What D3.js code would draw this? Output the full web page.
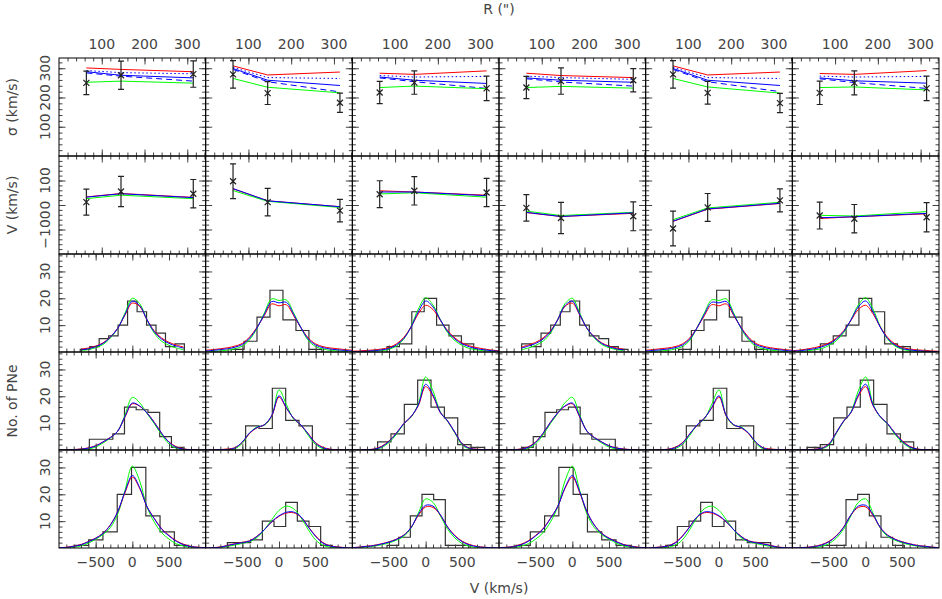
<!DOCTYPE html>
<html>
<head>
<meta charset="utf-8">
<script src="https://cdn.jsdelivr.net/npm/d3@7"></script>
<style>
  body { margin: 0; background: #fff; }
  svg { display: block; }
  text { font-family: "DejaVu Sans", sans-serif; font-size: 14px; fill: #444; }
</style>
</head>
<body>
<div id="chart"></div>
<script>
// radial bins ('') of the kinematic points
const radii = [64, 145, 314];
// velocity grid (km/s) on which the model LOSVDs are read
const vGrid = [-1000, -900, -800, -700, -600, -500, -400, -300, -200, -100, 0,
               100, 200, 300, 400, 500, 600, 700, 800, 900, 1000];

const rTicks = [100, 200, 300];
const vTicks = [-500, 0, 500];
const sigmaTicks = [100, 200, 300];
const velTicks = [-100, 0, 100];
const countTicks = [10, 20, 30];

// row 1: velocity dispersion, one entry per column
const sigmaObs = [[250, 276, 280], [279, 215, 182], [217, 251, 231], [234, 256, 259], [279, 216, 181], [216, 250, 231]];
const sigmaErr = [[40, 48, 45], [47, 39, 33], [38, 40, 42], [38, 45, 40], [47, 39, 33], [40, 41, 42]];
const sigRed = [[301, 296, 288], [308, 277, 287], [283, 279, 291], [283, 275, 268], [308, 277, 287], [282, 279, 292]];
const sigDotted = [[292, 285, 281], [303, 268, 265], [275, 270, 272], [273, 268, 262], [303, 268, 265], [273, 270, 272]];
const sigSolid = [[288, 276, 267], [299, 259, 241], [270, 259, 248], [267, 259, 252], [299, 259, 241], [267, 257, 249]];
const sigDashed = [[284, 273, 256], [296, 254, 219], [267, 254, 231], [264, 253, 239], [296, 254, 220], [264, 251, 231]];
const sigGreen = [[252, 256, 249], [265, 235, 216], [234, 239, 230], [234, 238, 232], [265, 236, 215], [234, 236, 226]];

// row 2: mean velocity
const velObs = [[12, 55, 46], [97, 12, -23], [44, 58, 51], [-12, -53, -46], [-96, -10, 19], [-43, -56, -50]];
const velErr = [[53, 62, 58], [71, 56, 46], [55, 58, 58], [54, 64, 59], [71, 57, 47], [55, 58, 60]];
const velRed = [[33, 47, 31], [66, 17, -7], [58, 53, 40], [-31, -47, -34], [-67, -17, 6], [-55, -48, -36]];
const velBlue = [[32, 46, 30], [67, 17, -7], [53, 53, 38], [-30, -47, -32], [-66, -16, 7], [-52, -48, -34]];
const velGreen = [[26, 40, 26], [59, 15, -10], [45, 50, 32], [-25, -43, -30], [-60, -12, 11], [-42, -45, -27]];

// rows 3-5: histograms of PN velocities (bin edges, counts) and model profiles on vGrid
const edges3 = [
  [-710, -581, -452, -323, -194, -65, 65, 194, 323, 452, 581, 710],
  [-653, -476, -300, -123, 54, 231, 408, 585],
  [-527, -358, -189, -20, 149, 318, 487, 655],
  [-691, -559, -427, -295, -164, -32, 100, 232, 363, 495, 627, 759],
  [-550, -377, -204, -32, 141, 313, 486, 659],
  [-618, -442, -267, -92, 83, 259, 434, 609]
];
const counts3 = [
  [1, 2, 5, 6, 10, 19, 15, 10, 7, 2, 3],
  [1, 4, 13, 23, 12, 8, 1],
  [2, 3, 15, 20, 10, 6, 3],
  [3, 2, 7, 10, 15, 19, 10, 6, 5, 2, 1],
  [1, 8, 12, 23, 13, 4, 1],
  [3, 6, 10, 20, 15, 3, 2]
];
const blue3 = [
  [null, null, null, 0.8, 1.2, 2.0, 3.2, 5.5, 8.8, 14.0, 18.9, 17.3, 12.0, 7.5, 4.8, 3.2, 2.2, 1.4, null, null, null],
  [0.4, 0.6, 0.9, 1.2, 1.8, 2.8, 5.2, 9.0, 14.0, 18.8, 18.3, 18.5, 14.0, 9.0, 4.8, 2.6, 1.6, 1.1, 0.8, 0.6, 0.4],
  [0.1, 0.2, 0.3, 0.5, 0.8, 1.3, 2.6, 5.0, 9.2, 15.0, 19.0, 16.8, 12.0, 7.6, 4.8, 3.0, 1.9, 1.2, 0.8, 0.5, 0.3],
  [null, null, null, 1.4, 2.2, 3.2, 4.8, 7.5, 12.0, 17.3, 18.9, 14.0, 8.8, 5.5, 3.2, 2.0, 1.2, 0.8, null, null, null],
  [0.4, 0.6, 0.8, 1.1, 1.6, 2.6, 4.8, 9.0, 14.0, 18.5, 18.3, 18.8, 14.0, 9.0, 5.2, 2.8, 1.8, 1.2, 0.9, 0.6, 0.4],
  [0.3, 0.5, 0.8, 1.2, 1.9, 3.0, 4.8, 7.6, 12.0, 16.8, 19.0, 15.0, 9.2, 5.0, 2.6, 1.3, 0.8, 0.5, 0.3, 0.2, 0.1]
];
const green3 = [
  [null, null, null, 0.5, 0.9, 1.6, 2.8, 5.2, 8.8, 14.5, 20.0, 18.0, 12.0, 7.0, 4.0, 2.5, 1.5, 0.8, null, null, null],
  [0.1, 0.2, 0.4, 0.7, 1.2, 2.2, 4.6, 8.8, 14.5, 19.8, 19.2, 19.4, 14.5, 9.0, 4.3, 2.0, 1.1, 0.6, 0.4, 0.2, 0.1],
  [0.0, 0.1, 0.2, 0.3, 0.5, 1.0, 2.2, 4.8, 9.5, 16.0, 20.2, 17.5, 12.0, 7.2, 4.2, 2.4, 1.3, 0.8, 0.4, 0.2, 0.1],
  [null, null, null, 0.8, 1.5, 2.5, 4.0, 7.0, 12.0, 18.0, 20.0, 14.5, 8.8, 5.2, 2.8, 1.6, 0.9, 0.5, null, null, null],
  [0.1, 0.2, 0.4, 0.6, 1.1, 2.0, 4.3, 9.0, 14.5, 19.4, 19.2, 19.8, 14.5, 8.8, 4.6, 2.2, 1.2, 0.7, 0.4, 0.2, 0.1],
  [0.1, 0.2, 0.4, 0.8, 1.3, 2.4, 4.2, 7.2, 12.0, 17.5, 20.2, 16.0, 9.5, 4.8, 2.2, 1.0, 0.5, 0.3, 0.2, 0.1, 0.0]
];
const red3 = [
  [null, null, null, 1.1, 1.5, 2.2, 3.4, 5.6, 8.8, 13.8, 18.2, 17.0, 12.0, 7.8, 5.2, 3.6, 2.6, 1.8, null, null, null],
  [0.7, 0.9, 1.2, 1.6, 2.2, 3.2, 5.6, 9.2, 13.6, 17.9, 17.2, 17.6, 13.5, 9.0, 5.2, 3.0, 2.0, 1.5, 1.2, 0.9, 0.7],
  [0.3, 0.4, 0.6, 0.8, 1.1, 1.7, 3.0, 5.4, 9.3, 14.2, 17.4, 15.8, 11.8, 7.9, 5.2, 3.4, 2.3, 1.6, 1.1, 0.7, 0.5],
  [null, null, null, 1.8, 2.6, 3.6, 5.2, 7.8, 12.0, 17.0, 18.2, 13.8, 8.8, 5.6, 3.4, 2.2, 1.5, 1.1, null, null, null],
  [0.7, 0.9, 1.2, 1.5, 2.0, 3.0, 5.2, 9.0, 13.5, 17.6, 17.2, 17.9, 13.6, 9.2, 5.6, 3.2, 2.2, 1.6, 1.2, 0.9, 0.7],
  [0.5, 0.7, 1.1, 1.6, 2.3, 3.4, 5.2, 7.9, 11.8, 15.8, 17.4, 14.2, 9.3, 5.4, 3.0, 1.7, 1.1, 0.8, 0.6, 0.4, 0.3]
];

const edges4 = [
  [-586, -426, -266, -107, 53, 213, 373, 533, 693],
  [-455, -273, -91, 91, 273, 455],
  [-655, -473, -291, -109, 73, 255, 437, 619, 801],
  [-693, -533, -373, -213, -53, 107, 266, 426, 586],
  [-445, -262, -78, 106, 289, 473],
  [-801, -619, -437, -255, -73, 109, 291, 473, 655]
];
const counts4 = [
  [4, 4, 6, 16, 15, 14, 5, 1],
  [9, 8, 23, 11, 9],
  [3, 6, 17, 26, 16, 12, 2, 1],
  [1, 5, 14, 15, 16, 6, 4, 4],
  [9, 11, 23, 8, 9],
  [1, 2, 12, 16, 26, 17, 6, 3]
];
const blue4 = [
  [0, 0, 0.1, 0.3, 0.7, 1.5, 3.0, 4.6, 7.0, 12.5, 17.5, 16.4, 13.8, 10.2, 6.2, 2.9, 1.0, 0.3, 0.1, 0, 0],
  [0, 0, 0.1, 0.2, 0.8, 3.0, 6.4, 8.4, 9.4, 12.8, 20.2, 15.8, 11.8, 9.3, 5.9, 2.5, 0.8, 0.2, 0, 0, 0],
  [0, 0, 0.1, 0.3, 1.2, 3.2, 6.2, 9.8, 12.4, 16.8, 24.5, 20.5, 14.0, 10.8, 6.5, 2.2, 0.6, 0.2, 0.1, 0, 0],
  [0, 0, 0.1, 0.3, 1.0, 2.9, 6.2, 10.2, 13.8, 16.4, 17.5, 12.5, 7.0, 4.6, 3.0, 1.5, 0.7, 0.3, 0.1, 0, 0],
  [0, 0, 0, 0.2, 0.8, 2.5, 5.9, 9.3, 11.8, 15.8, 20.2, 12.8, 9.4, 8.4, 6.4, 3.0, 0.8, 0.2, 0.1, 0, 0],
  [0, 0, 0.1, 0.2, 0.6, 2.2, 6.5, 10.8, 14.0, 20.5, 24.5, 16.8, 12.4, 9.8, 6.2, 3.2, 1.2, 0.3, 0.1, 0, 0]
];
const green4 = [
  [0, 0, 0, 0.1, 0.4, 1.1, 2.6, 4.5, 7.0, 13.0, 19.6, 17.6, 13.6, 9.8, 5.6, 2.3, 0.6, 0.1, 0, 0, 0],
  [0, 0, 0, 0.1, 0.5, 2.5, 6.3, 8.6, 9.2, 12.5, 22.4, 17.0, 11.5, 9.2, 5.4, 2.0, 0.5, 0.1, 0, 0, 0],
  [0, 0, 0, 0.2, 0.9, 2.8, 5.8, 9.6, 12.2, 17.2, 27.2, 22.0, 14.2, 10.6, 6.2, 1.8, 0.4, 0.1, 0, 0, 0],
  [0, 0, 0, 0.1, 0.6, 2.3, 5.6, 9.8, 13.6, 17.6, 19.6, 13.0, 7.0, 4.5, 2.6, 1.1, 0.4, 0.1, 0, 0, 0],
  [0, 0, 0, 0.1, 0.5, 2.0, 5.4, 9.2, 11.5, 17.0, 22.4, 12.5, 9.2, 8.6, 6.3, 2.5, 0.5, 0.1, 0, 0, 0],
  [0, 0, 0, 0.1, 0.4, 1.8, 6.2, 10.6, 14.2, 22.0, 27.2, 17.2, 12.2, 9.6, 5.8, 2.8, 0.9, 0.2, 0, 0, 0]
];
const red4 = [
  [0, 0.05, 0.15, 0.4, 0.8, 1.6, 3.0, 4.7, 7.0, 12.3, 17.2, 16.3, 13.8, 10.3, 6.2, 3.0, 1.2, 0.4, 0.15, 0.05, 0],
  [0, 0.05, 0.15, 0.4, 0.9, 2.9, 6.2, 8.3, 9.4, 12.6, 19.7, 15.6, 11.8, 9.2, 6.0, 2.7, 1.0, 0.3, 0.1, 0, 0],
  [0, 0.05, 0.15, 0.4, 1.4, 3.4, 6.3, 9.8, 12.4, 16.5, 23.6, 20.0, 13.9, 10.8, 6.5, 2.3, 0.7, 0.3, 0.15, 0.05, 0],
  [0, 0.05, 0.15, 0.4, 1.2, 3.0, 6.2, 10.3, 13.8, 16.3, 17.2, 12.3, 7.0, 4.7, 3.0, 1.6, 0.8, 0.4, 0.15, 0.05, 0],
  [0, 0, 0.1, 0.3, 1.0, 2.7, 6.0, 9.2, 11.8, 15.6, 19.7, 12.6, 9.4, 8.3, 6.2, 2.9, 0.9, 0.4, 0.15, 0.05, 0],
  [0, 0.05, 0.15, 0.3, 0.7, 2.3, 6.5, 10.8, 13.9, 20.0, 23.6, 16.5, 12.4, 9.8, 6.3, 3.4, 1.4, 0.4, 0.15, 0.05, 0]
];

const edges5 = [
  [-791, -596, -401, -206, -11, 184, 378, 573, 768],
  [-704, -545, -386, -227, -68, 91, 250, 409, 568, 727],
  [-527, -368, -209, -50, 109, 268, 427, 586],
  [-768, -573, -378, -184, 11, 206, 401, 596, 791],
  [-727, -568, -409, -250, -91, 68, 227, 386, 545, 704],
  [-586, -427, -268, -109, 50, 209, 368, 527]
];
const counts5 = [
  [1, 3, 6, 20, 30, 12, 6, 1],
  [2, 2, 3, 10, 8, 17, 10, 8, 1],
  [1, 4, 12, 20, 18, 1, 1],
  [1, 6, 12, 30, 20, 6, 3, 1],
  [1, 8, 10, 17, 8, 10, 3, 2, 2],
  [1, 1, 18, 20, 12, 4, 1]
];
const blue5 = [
  [0.1, 0.2, 0.6, 1.2, 2.3, 3.6, 5.4, 8.5, 13.5, 21.0, 27.0, 22.5, 15.4, 10.9, 7.0, 4.5, 2.5, 1.2, 0.5, 0.2, 0.1],
  [0.05, 0.1, 0.3, 0.9, 1.5, 2.0, 2.6, 4.3, 6.8, 9.8, 12.0, 13.3, 13.4, 11.6, 7.8, 4.3, 1.8, 0.7, 0.3, 0.1, 0],
  [0.1, 0.3, 0.6, 0.9, 1.5, 2.2, 3.2, 4.7, 7.6, 12.5, 15.9, 15.6, 12.4, 7.7, 4.4, 2.3, 1.1, 0.5, 0.2, 0.1, 0],
  [0.1, 0.2, 0.5, 1.2, 2.5, 4.5, 7.0, 10.9, 15.4, 22.5, 27.0, 21.0, 13.5, 8.5, 5.4, 3.6, 2.3, 1.2, 0.6, 0.2, 0.1],
  [0, 0.1, 0.3, 0.7, 1.8, 4.3, 7.8, 11.6, 13.4, 13.3, 12.0, 9.8, 6.8, 4.3, 2.6, 2.0, 1.5, 0.9, 0.3, 0.1, 0.05],
  [0, 0.1, 0.2, 0.5, 1.1, 2.3, 4.4, 7.7, 12.4, 15.6, 15.9, 12.5, 7.6, 4.7, 3.2, 2.2, 1.5, 0.9, 0.6, 0.3, 0.1]
];
const green5 = [
  [0, 0.1, 0.3, 0.8, 1.8, 3.3, 5.0, 7.6, 12.6, 21.5, 30.5, 25.0, 15.3, 9.6, 5.7, 3.3, 1.6, 0.7, 0.3, 0.1, 0],
  [0, 0.05, 0.2, 0.6, 1.1, 1.7, 2.4, 3.9, 6.8, 10.5, 14.0, 15.6, 14.6, 11.3, 6.8, 3.0, 1.0, 0.3, 0.1, 0, 0],
  [0.05, 0.2, 0.4, 0.7, 1.2, 1.9, 2.9, 4.3, 7.4, 13.0, 18.3, 17.0, 12.0, 7.0, 3.7, 1.6, 0.6, 0.2, 0.1, 0, 0],
  [0, 0.1, 0.3, 0.7, 1.6, 3.3, 5.7, 9.6, 15.3, 25.0, 30.5, 21.5, 12.6, 7.6, 5.0, 3.3, 1.8, 0.8, 0.3, 0.1, 0],
  [0, 0, 0.1, 0.3, 1.0, 3.0, 6.8, 11.3, 14.6, 15.6, 14.0, 10.5, 6.8, 3.9, 2.4, 1.7, 1.1, 0.6, 0.2, 0.05, 0],
  [0, 0, 0.1, 0.2, 0.6, 1.6, 3.7, 7.0, 12.0, 17.0, 18.3, 13.0, 7.4, 4.3, 2.9, 1.9, 1.2, 0.7, 0.4, 0.2, 0.05]
];
const red5 = [
  [0.1, 0.3, 0.7, 1.3, 2.4, 3.7, 5.5, 8.6, 13.4, 20.6, 26.4, 22.2, 15.4, 11.0, 7.2, 4.7, 2.7, 1.4, 0.6, 0.3, 0.1],
  [0.1, 0.15, 0.4, 1.0, 1.6, 2.1, 2.7, 4.4, 6.8, 9.7, 11.8, 13.0, 13.1, 11.5, 7.9, 4.5, 2.0, 0.8, 0.4, 0.15, 0.05],
  [0.15, 0.35, 0.7, 1.0, 1.6, 2.3, 3.3, 4.8, 7.6, 12.1, 15.3, 15.1, 12.3, 7.8, 4.6, 2.5, 1.3, 0.6, 0.3, 0.1, 0.05],
  [0.1, 0.3, 0.6, 1.4, 2.7, 4.7, 7.2, 11.0, 15.4, 22.2, 26.4, 20.6, 13.4, 8.6, 5.5, 3.7, 2.4, 1.3, 0.7, 0.3, 0.1],
  [0.05, 0.15, 0.4, 0.8, 2.0, 4.5, 7.9, 11.5, 13.1, 13.0, 11.8, 9.7, 6.8, 4.4, 2.7, 2.1, 1.6, 1.0, 0.4, 0.15, 0.1],
  [0.05, 0.1, 0.3, 0.6, 1.3, 2.5, 4.6, 7.8, 12.3, 15.1, 15.3, 12.1, 7.6, 4.8, 3.3, 2.3, 1.6, 1.0, 0.7, 0.35, 0.15]
];

const histRows = [
  {edges: edges3, counts: counts3, blue: blue3, green: green3, red: red3},
  {edges: edges4, counts: counts4, blue: blue4, green: green4, red: red4},
  {edges: edges5, counts: counts5, blue: blue5, green: green5, red: red5}
];

const W = 942, H = 599;
const padL = 59, padT = 58, pw = 880 / 6, ph = 98;
const nCols = 6;

const svg = d3.select('#chart').append('svg')
    .attr('width', W)
    .attr('height', H);

const fmt = d3.format('');

function inwardTicks(g, x, y, xMaj, xMin, yMaj, yMin) {
  const [x0, x1] = x.range(), [y1, y0] = y.range();
  const put = (axis, tr) => g.append('g')
      .attr('transform', tr)
      .call(axis.tickFormat(''))
      .call(a => a.select('.domain').remove())
      .call(a => a.selectAll('line').attr('stroke', '#444'));
  [[xMin, 3.5], [xMaj, 6.5]].forEach(([vals, s]) => {
    put(d3.axisBottom(x).tickValues(vals).tickSize(-s), `translate(0,${y1})`);
    put(d3.axisTop(x).tickValues(vals).tickSize(-s), `translate(0,${y0})`);
  });
  [[yMin, 3.5], [yMaj, 6.5]].forEach(([vals, s]) => {
    put(d3.axisLeft(y).tickValues(vals).tickSize(-s), `translate(${x0},0)`);
    put(d3.axisRight(y).tickValues(vals).tickSize(-s), `translate(${x1},0)`);
  });
  g.append('rect')
    .attr('x', x0).attr('y', y0)
    .attr('width', x1 - x0).attr('height', y1 - y0)
    .attr('fill', 'none')
    .attr('stroke', '#000')
    .attr('stroke-width', 1);
}

function rotLabel(x, y, t) {
  svg.append('text')
    .attr('transform', `translate(${x},${y}) rotate(-90)`)
    .attr('text-anchor', 'middle')
    .text(t);
}

function errPoints(g, x, y, obs, err) {
  const pts = radii.map((R, i) => ({X: x(R), v: obs[i], e: err[i]}));
  g.append('g').selectAll('path')
    .data(pts)
    .join('path')
    .attr('fill', 'none')
    .attr('stroke', '#222')
    .attr('stroke-width', 1.2)
    .attr('d', d => {
      const lo = y(d.v - d.e), hi = y(d.v + d.e), Y = y(d.v);
      return `M${d.X},${lo}V${hi}M${d.X - 3},${lo}H${d.X + 3}M${d.X - 3},${hi}H${d.X + 3}` +
             `M${d.X - 3},${Y - 3}L${d.X + 3},${Y + 3}M${d.X - 3},${Y + 3}L${d.X + 3},${Y - 3}`;
    });
}

const rMinor = d3.range(20, 343, 20);
const vMinor = d3.range(-900, 1000, 100);

// ---- row 1 and row 2: sigma and V vs R
for (let c = 0; c < nCols; c++) {
  const x = d3.scaleLinear().domain([0, 343]).range([padL + c * pw, padL + (c + 1) * pw]);

  // sigma
  const y1 = d3.scaleLinear().domain([0, 335]).range([padT + ph, padT]);
  const g1 = svg.append('g');
  inwardTicks(g1, x, y1, rTicks, rMinor, sigmaTicks, d3.range(20, 335, 20));
  const sl = d3.line().x((d, i) => x(radii[i])).y(d => y1(d));
  [[sigRed[c], 'red', null], [sigDotted[c], 'blue', '1.5,2.5'], [sigSolid[c], 'blue', null],
   [sigDashed[c], 'blue', '6,4'], [sigGreen[c], '#00ff00', null]].forEach(([vals, col, dash]) => {
    g1.append('path')
      .attr('d', sl(vals))
      .attr('fill', 'none')
      .attr('stroke', col)
      .attr('stroke-width', 1)
      .attr('stroke-dasharray', dash);
  });
  errPoints(g1, x, y1, sigmaObs[c], sigmaErr[c]);

  // velocity
  const y2 = d3.scaleLinear().domain([-200, 200]).range([padT + 2 * ph, padT + ph]);
  const g2 = svg.append('g');
  inwardTicks(g2, x, y2, rTicks, rMinor, velTicks, d3.range(-180, 200, 20));
  const vl = d3.line().x((d, i) => x(radii[i])).y(d => y2(d));
  [[velRed[c], 'red'], [velGreen[c], '#00ff00'], [velBlue[c], 'blue']].forEach(([vals, col]) => {
    g2.append('path')
      .attr('d', vl(vals))
      .attr('fill', 'none')
      .attr('stroke', col)
      .attr('stroke-width', 1);
  });
  errPoints(g2, x, y2, velObs[c], velErr[c]);

  // top R labels
  rTicks.forEach(t => {
    svg.append('text')
      .attr('x', x(t)).attr('y', 48.5)
      .attr('text-anchor', 'middle')
      .text(fmt(t));
  });
}

// ---- rows 3-5: histograms with model profiles
histRows.forEach((row, r) => {
  const ri = r + 2;
  const y = d3.scaleLinear().domain([0, 36.5]).range([padT + (ri + 1) * ph, padT + ri * ph]);
  for (let c = 0; c < nCols; c++) {
    const x = d3.scaleLinear().domain([-1000, 1000]).range([padL + c * pw, padL + (c + 1) * pw]);
    const g = svg.append('g');
    const clipId = `clip-${r}-${c}`;
    g.append('clipPath').attr('id', clipId)
      .append('rect')
      .attr('x', x.range()[0]).attr('y', y.range()[1])
      .attr('width', pw).attr('height', ph);

    const e = row.edges[c], n = row.counts[c];
    let p = `M${x(e[0])},${y(0)}`;
    n.forEach((k, i) => { p += `V${y(k)}H${x(e[i + 1])}`; });
    p += `V${y(0)}`;
    g.append('path')
      .attr('d', p)
      .attr('fill', 'none')
      .attr('stroke', '#333')
      .attr('stroke-width', 1.2)
      .attr('clip-path', `url(#${clipId})`);

    const line = d3.line()
      .defined(d => d[1] != null)
      .x(d => x(d[0]))
      .y(d => y(d[1]))
      .curve(d3.curveCatmullRom.alpha(0.5));
    [[row.green[c], '#00ff00'], [row.red[c], 'red'], [row.blue[c], 'blue']].forEach(([vals, col]) => {
      g.append('path')
        .attr('d', line(vGrid.map((v, i) => [v, vals[i]])))
        .attr('fill', 'none')
        .attr('stroke', col)
        .attr('stroke-width', 1)
        .attr('clip-path', `url(#${clipId})`);
    });

    inwardTicks(g, x, y, vTicks, vMinor, countTicks, d3.range(2, 36.5, 2));

    if (ri === 4) {
      vTicks.forEach(t => {
        svg.append('text')
          .attr('x', x(t)).attr('y', 567)
          .attr('text-anchor', 'middle')
          .text(fmt(t));
      });
    }
    if (c === 0) countTicks.forEach(t => rotLabel(50, y(t), fmt(t)));
  }
});

// left tick labels of the first two rows
{
  const ys = d3.scaleLinear().domain([0, 335]).range([padT + ph, padT]);
  sigmaTicks.forEach(t => rotLabel(50, ys(t), fmt(t)));
  const yv = d3.scaleLinear().domain([-200, 200]).range([padT + 2 * ph, padT + ph]);
  velTicks.forEach(t => rotLabel(50, yv(t), fmt(t)));
}

// axis titles
rotLabel(17, padT + ph / 2, 'σ (km/s)');
rotLabel(17, padT + 1.5 * ph, 'V (km/s)');
rotLabel(17, padT + 3.5 * ph, 'No. of PNe');
svg.append('text').attr('x', padL + 440).attr('y', 14).attr('text-anchor', 'middle').text('R (")');
svg.append('text').attr('x', padL + 440).attr('y', 593).attr('text-anchor', 'middle').text('V (km/s)');
</script>
</body>
</html>
